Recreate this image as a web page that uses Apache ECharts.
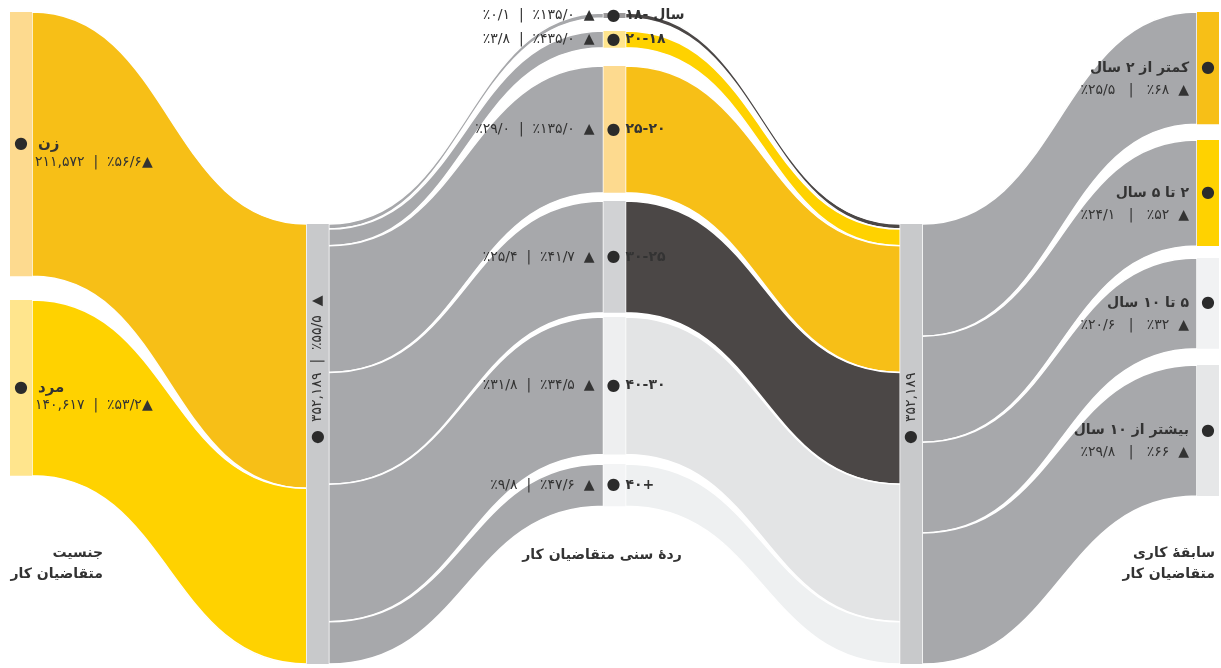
<!DOCTYPE html>
<html><head><meta charset="utf-8">
<script src="https://cdn.jsdelivr.net/npm/echarts@6/dist/echarts.min.js"></script>
<style>html,body{margin:0;padding:0;background:#fff}#c{width:1221px;height:668px}</style>
</head><body><div id="c"></div>
<script>
// ---------------- data ----------------
const genderNames = ['زن', 'مرد'];
const genderValues = [211572, 140617];
const genderGrowth = [56.6, 53.2];

const totalValue = 352189;
const totalGrowth = 55.5;

const ageNames = ['۱۸- سال', '۲۰-۱۸', '۲۵-۲۰', '۳۰-۲۵', '۴۰-۳۰', '۴۰+'];
const ageValues = [4000, 13380, 101500, 89450, 110000, 33859];
const ageShare = [0.1, 3.8, 29.0, 25.4, 31.8, 9.8];
const ageGrowth = [135.0, 435.0, 135.0, 41.7, 34.5, 47.6];

const expNames = ['کمتر از ۲ سال', '۲ تا ۵ سال', '۵ تا ۱۰ سال', 'بیشتر از ۱۰ سال'];
const expValues = [89808, 84878, 72551, 104952];
const expShare = [25.5, 24.1, 20.6, 29.8];
const expGrowth = [68, 52, 32, 66];

const columnTitles = ['جنسیت\nمتقاضیان کار', 'ردهٔ سنی متقاضیان کار', 'سابقهٔ کاری\nمتقاضیان کار'];

// ---------------- layout / style ----------------
const H = 440;                       // sankey height (px)
const genderTop = [12, 300];
const totalTop = 224;
const ageTop = [13, 31, 66, 201, 317, 464];
const expTop = [12, 140, 258, 365];

const ORANGE = '#F7BF17', YELLOW = '#FFD200', DARK = '#4B4746', GREY = '#A7A8AB', TOTALGREY = '#C8C9CB';
const genderNodeColors = ['#FDDA8F', '#FFE58D'];
const genderLinkColors = [ORANGE, YELLOW];
const ageNodeColors = ['#9A9899', '#FFE58D', '#FDDA8F', '#D1D2D4', '#EEEFF0', '#F3F4F5'];
const ageLinkColors = [DARK, YELLOW, ORANGE, DARK, '#E3E4E5', '#EEF0F1'];
const expNodeColors = [ORANGE, YELLOW, '#F1F2F3', '#E6E7E8'];

const FONT = "'DejaVu Sans', sans-serif";
const TXT = '#333333';
const FA = '۰۱۲۳۴۵۶۷۸۹';
const fa = s => String(s).replace(/[0-9]/g, d => FA[d]);
const faInt = n => fa(n.toLocaleString('en-US'));
const faDec = (n, k) => fa(n.toFixed(k).replace('.', '/'));
const rtl = s => '\u202B' + s + '\u202C';

const dotStyle = { fontSize: 16, color: '#2b2b2b', fontFamily: FONT, lineHeight: 20 };
const nameStyle = { fontSize: 14, fontWeight: 'bold', color: TXT, fontFamily: FONT, lineHeight: 20 };
const valStyle = { fontSize: 14, color: TXT, fontFamily: FONT, lineHeight: 20 };
const withLH = (o, lh) => Object.assign({}, o, { lineHeight: lh });

// ---------------- nodes ----------------
const nodes = [];
genderNames.forEach((n, i) => {
  const stats = `${faInt(genderValues[i])}  |  ٪${faDec(genderGrowth[i], 1)}▲`;
  nodes.push({
    name: n, localY: genderTop[i] / H,
    itemStyle: { color: genderNodeColors[i], borderWidth: 0 },
    label: {
      position: ['50%', '50%'], align: 'left', verticalAlign: 'top', offset: [-7, -9],
      formatter: () => `{dot|●}{g| }{n|${rtl(n)}}\n{p| }{v|${stats}}`,
      rich: { dot: withLH(dotStyle, 18), g: { width: 10 }, n: Object.assign({}, nameStyle, { fontSize: 15, lineHeight: 18 }), p: { width: 21 }, v: withLH(valStyle, 18) }
    }
  });
});
nodes.push({
  name: 'total1', localY: totalTop / H,
  itemStyle: { color: TOTALGREY, borderWidth: 0 },
  label: {
    position: ['50%', '50%'], rotate: 90, align: 'left', verticalAlign: 'middle',
    formatter: () => `{dot|●}{g| }{v|${faInt(totalValue)}  |  ٪${faDec(totalGrowth, 1)}  ▲}`,
    rich: { dot: dotStyle, g: { width: 8 }, v: valStyle }
  }
});
ageNames.forEach((n, i) => {
  const stats = `٪${faDec(ageShare[i], 1)}  |  ٪${faDec(ageGrowth[i], 1)}  ▲`;
  const L = o => Object.assign({ align: 'left' }, o);
  nodes.push({
    name: n, localY: ageTop[i] / H,
    itemStyle: { color: ageNodeColors[i], borderWidth: 0 },
    label: {
      position: ['50%', '50%'], align: 'right', verticalAlign: 'middle', offset: [81, 0],
      formatter: () => `{v|${stats}}{g| }{dot|●}{g2| }{n|${n}}`,
      rich: { v: L(valStyle), g: L({ width: 12 }), dot: L(dotStyle), g2: L({ width: 5 }), n: L(Object.assign({}, nameStyle, { width: 70 })) }
    }
  });
});
nodes.push({
  name: 'total2', localY: totalTop / H,
  itemStyle: { color: TOTALGREY, borderWidth: 0 },
  label: {
    position: ['50%', '50%'], rotate: 90, align: 'left', verticalAlign: 'middle',
    formatter: () => `{dot|●}{g| }{v|${faInt(totalValue)}}`,
    rich: { dot: dotStyle, g: { width: 8 }, v: valStyle }
  }
});
expNames.forEach((n, i) => {
  const stats = `٪${faDec(expShare[i], 1)}   |   ٪${faDec(expGrowth[i], 0)}  ▲`;
  const R = o => Object.assign({ align: 'right' }, o);
  nodes.push({
    name: n, localY: expTop[i] / H,
    itemStyle: { color: expNodeColors[i], borderWidth: 0 },
    label: {
      position: ['50%', '50%'], align: 'right', verticalAlign: 'top', offset: [7, -11],
      formatter: () => `{n|${rtl(n)}}{g| }{dot|●}\n{v|${stats}}{p| }`,
      rich: { n: R(withLH(nameStyle, 22)), g: R({ width: 12 }), dot: R(withLH(dotStyle, 22)), v: R(withLH(valStyle, 22)), p: R({ width: 26 }) }
    }
  });
});

// ---------------- links ----------------
const links = [];
genderNames.forEach((n, i) => links.push({ source: n, target: 'total1', value: genderValues[i], lineStyle: { color: genderLinkColors[i] } }));
ageNames.forEach((n, i) => links.push({ source: 'total1', target: n, value: ageValues[i], lineStyle: { color: GREY } }));
ageNames.forEach((n, i) => links.push({ source: n, target: 'total2', value: ageValues[i], lineStyle: { color: ageLinkColors[i] } }));
expNames.forEach((n, i) => links.push({ source: 'total2', target: n, value: expValues[i], lineStyle: { color: GREY } }));

const titleStyle = { fontSize: 14, fontWeight: 'bold', color: TXT, fontFamily: FONT, lineHeight: 21 };

const chart = echarts.init(document.getElementById('c'), null, { renderer: 'canvas' });
chart.setOption({
  animation: false,
  backgroundColor: '#fff',
  title: [
    { text: columnTitles[0], left: 103, top: 543, textAlign: 'right', padding: 0, textStyle: titleStyle },
    { text: columnTitles[1], left: 602, top: 545, textAlign: 'center', padding: 0, textStyle: titleStyle },
    { text: columnTitles[2], left: 1215, top: 543, textAlign: 'right', padding: 0, textStyle: titleStyle }
  ],
  series: [{
    type: 'sankey',
    left: 10, right: 2, top: 0, height: H,
    nodeWidth: 22, nodeGap: 0, layoutIterations: 0, draggable: false,
    emphasis: { disabled: true },
    lineStyle: { opacity: 1, curveness: 0.5, borderColor: '#ffffff', borderWidth: 1.5 },
    label: { color: TXT, fontFamily: FONT },
    data: nodes,
    links: links
  }]
});
</script>
</body></html>
